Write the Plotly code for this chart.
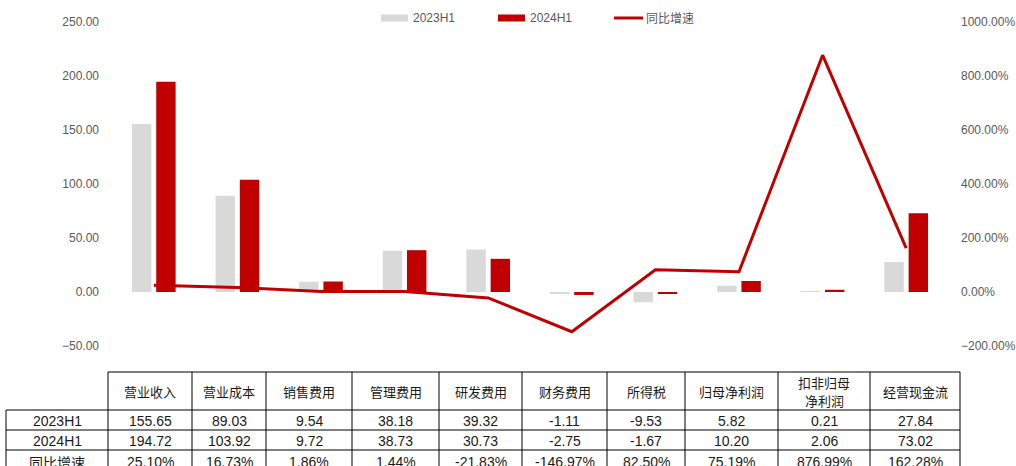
import plotly.graph_objects as go

# ---------------- data ----------------
categories = ["营业收入", "营业成本", "销售费用", "管理费用", "研发费用",
              "财务费用", "所得税", "归母净利润", "扣非归母净利润", "经营现金流"]
header_labels = ["营业收入", "营业成本", "销售费用", "管理费用", "研发费用",
                 "财务费用", "所得税", "归母净利润", "扣非归母<br>净利润", "经营现金流"]
h1_2023 = [155.65, 89.03, 9.54, 38.18, 39.32, -1.11, -9.53, 5.82, 0.21, 27.84]
h1_2024 = [194.72, 103.92, 9.72, 38.73, 30.73, -2.75, -1.67, 10.20, 2.06, 73.02]
yoy_pct = [25.10, 16.73, 1.86, 1.44, -21.83, -146.97, 82.50, 75.19, 876.99, 162.28]
series_names = ["2023H1", "2024H1", "同比增速"]

# ---------------- layout constants ----------------
W, H = 1016, 466
L, R, T, B = 112, 948, 22, 346          # plot box in pixels
GRAY, RED, TXT = "#D9D9D9", "#C00000", "#595959"
NUM_FONT = "Liberation Sans, Arial, sans-serif"
CJK_FONT = "Noto Sans CJK SC, sans-serif"


def px(x):
    return (x - L) / (R - L)


def py(y):
    return (B - y) / (B - T)


fig = go.Figure()
fig.add_trace(go.Bar(x=categories, y=h1_2023, name=series_names[0],
                     marker=dict(color=GRAY, line=dict(width=0)), showlegend=False))
fig.add_trace(go.Bar(x=categories, y=h1_2024, name=series_names[1],
                     marker=dict(color=RED, line=dict(width=0)), showlegend=False))
fig.add_trace(go.Scatter(x=categories, y=[v / 100 for v in yoy_pct], name=series_names[2],
                         mode="lines", line=dict(color=RED, width=3), yaxis="y2",
                         showlegend=False))

shapes = []
annotations = []

# ---------- legend (drawn) ----------
leg_y = 18
leg_items = [(381, "rect", GRAY, series_names[0], NUM_FONT),
             (498, "rect", RED, series_names[1], NUM_FONT),
             (614, "line", RED, series_names[2], CJK_FONT)]
for x0, kind, col, label, fam in leg_items:
    if kind == "rect":
        shapes.append(dict(type="rect", xref="paper", yref="paper",
                           x0=px(x0), x1=px(x0 + 27), y0=py(leg_y - 3.5), y1=py(leg_y + 3.5),
                           fillcolor=col, line=dict(width=0)))
    else:
        shapes.append(dict(type="line", xref="paper", yref="paper",
                           x0=px(x0), x1=px(x0 + 29), y0=py(leg_y), y1=py(leg_y),
                           line=dict(color=col, width=3)))
    annotations.append(dict(text=label, xref="paper", yref="paper",
                            x=px(x0 + 30), y=py(leg_y), xanchor="left", yanchor="middle",
                            showarrow=False, font=dict(family=fam, size=12, color=TXT)))

# ---------- table (drawn) ----------
col_edges = [108, 192, 266, 352, 439, 522, 607, 685, 778, 870, 960]
label_left = 6
row_edges = [372, 410, 430, 450, 472]
line_style = dict(color="#000000", width=1)

shapes.append(dict(type="line", xref="paper", yref="paper",
                   x0=px(col_edges[0]), x1=px(col_edges[-1]), y0=py(row_edges[0]), y1=py(row_edges[0]),
                   line=line_style))
for ry in row_edges[1:]:
    shapes.append(dict(type="line", xref="paper", yref="paper",
                       x0=px(label_left), x1=px(col_edges[-1]), y0=py(ry), y1=py(ry),
                       line=line_style))
shapes.append(dict(type="line", xref="paper", yref="paper",
                   x0=px(label_left), x1=px(label_left), y0=py(row_edges[1]), y1=py(row_edges[-1]),
                   line=line_style))
for cx in col_edges:
    shapes.append(dict(type="line", xref="paper", yref="paper",
                       x0=px(cx), x1=px(cx), y0=py(row_edges[0]), y1=py(row_edges[-1]),
                       line=line_style))

row_labels = [(series_names[0], NUM_FONT), (series_names[1], NUM_FONT), ("同比增速", CJK_FONT)]
row_values = [[f"{v:.2f}" for v in h1_2023],
              [f"{v:.2f}" for v in h1_2024],
              [f"{v:.2f}%" for v in yoy_pct]]

# header (multi-line labels split into separate lines, 18 px apart)
for i, lab in enumerate(header_labels):
    cx = (col_edges[i] + col_edges[i + 1]) / 2
    cy = (row_edges[0] + row_edges[1]) / 2
    parts = lab.split("<br>")
    n = len(parts)
    for k, part in enumerate(parts):
        ly = cy + (k - (n - 1) / 2) * 18
        annotations.append(dict(text=part, xref="paper", yref="paper", x=px(cx), y=py(ly),
                                xanchor="center", yanchor="middle", showarrow=False,
                                font=dict(family=CJK_FONT, size=13, color="#1a1a1a")))
# rows
for r in range(3):
    cy = (row_edges[r + 1] + row_edges[r + 2]) / 2 + 1
    lab, fam = row_labels[r]
    annotations.append(dict(text=lab, xref="paper", yref="paper",
                            x=px((label_left + col_edges[0]) / 2), y=py(cy),
                            xanchor="center", yanchor="middle", showarrow=False,
                            font=dict(family=fam, size=14, color="#1a1a1a")))
    for i, val in enumerate(row_values[r]):
        cx = (col_edges[i] + col_edges[i + 1]) / 2
        annotations.append(dict(text=val, xref="paper", yref="paper", x=px(cx), y=py(cy),
                                xanchor="center", yanchor="middle", showarrow=False,
                                font=dict(family=NUM_FONT, size=14, color="#1a1a1a")))

fig.update_layout(
    width=W, height=H,
    margin=dict(l=L, r=W - R, t=T, b=H - B, pad=0, autoexpand=False),
    plot_bgcolor="white", paper_bgcolor="white",
    barmode="group", bargap=0.42, bargroupgap=0.2,
    showlegend=False,
    xaxis=dict(showticklabels=False, showgrid=False, zeroline=False, showline=False,
               ticks="", automargin=False),
    yaxis=dict(range=[-50, 250], dtick=50, tickformat=".2f", showgrid=False,
               zeroline=False, showline=False, ticks="", ticklabelstandoff=12,
               automargin=False,
               tickfont=dict(family=NUM_FONT, size=12, color=TXT)),
    yaxis2=dict(range=[-2, 10], dtick=2, tickformat=".2%", overlaying="y", side="right",
                showgrid=False, zeroline=False, showline=False, ticks="",
                ticklabelstandoff=12, automargin=False,
                tickfont=dict(family=NUM_FONT, size=12, color=TXT)),
    shapes=shapes,
    annotations=annotations,
)

fig.write_html("out.html")
